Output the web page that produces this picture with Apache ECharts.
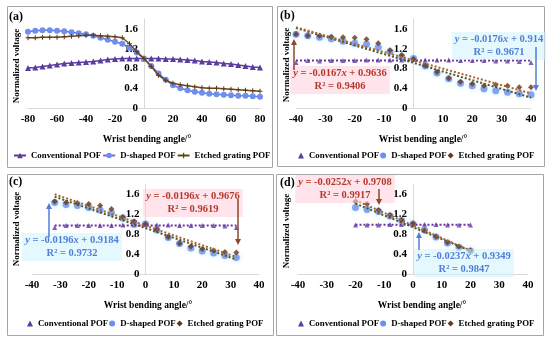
<!DOCTYPE html>
<html><head><meta charset="utf-8">
<script src="https://cdn.jsdelivr.net/npm/echarts@6/dist/echarts.min.js"></script>
<style>html,body{margin:0;padding:0;background:#fff}#c{width:550px;height:340px}</style>
</head><body><div id="c"></div>
<script>
const seriesNames = ['Conventional POF', 'D-shaped POF', 'Etched grating POF'];
const panelLabels = ['(a)', '(b)', '(c)', '(d)'];
const xAxisName = 'Wrist bending angle/°';
const yAxisName = 'Normalized voltage';

// Panel (a)
const xA = [-80,-75,-70,-65,-60,-55,-50,-45,-40,-35,-30,-25,-20,-15,-10,-5,0,5,10,15,20,25,30,35,40,45,50,55,60,65,70,75,80];
const convA = [0.81,0.82,0.84,0.86,0.88,0.90,0.91,0.92,0.93,0.94,0.96,0.98,0.99,1.00,1.00,1.00,1.00,1.00,1.00,0.99,0.99,0.98,0.97,0.96,0.94,0.93,0.92,0.90,0.89,0.87,0.85,0.83,0.82];
const dA = [1.54,1.56,1.57,1.57,1.56,1.55,1.53,1.51,1.49,1.46,1.42,1.38,1.34,1.30,1.22,1.12,1.00,0.85,0.70,0.57,0.46,0.40,0.36,0.33,0.31,0.29,0.28,0.27,0.26,0.25,0.25,0.24,0.23];
const etchA = [1.42,1.42,1.43,1.43,1.43,1.44,1.45,1.46,1.47,1.47,1.46,1.45,1.44,1.42,1.30,1.14,1.00,0.84,0.66,0.56,0.50,0.47,0.45,0.43,0.41,0.40,0.40,0.39,0.38,0.37,0.36,0.35,0.34];

// Panel (b)
const xB = [-40,-36,-32,-28,-24,-20,-16,-12,-8,-4,0,4,8,12,16,20,24,28,32,36,40];
const convB = [0.92,0.96,0.95,0.96,0.96,0.96,0.97,0.97,0.97,0.97,0.98,0.97,0.97,0.97,0.96,0.96,0.96,0.95,0.95,0.94,0.92];
const dB = [1.49,1.46,1.43,1.40,1.35,1.31,1.29,1.23,1.14,1.03,1.00,0.85,0.71,0.59,0.50,0.45,0.39,0.35,0.32,0.29,0.27];
const etchB = [1.49,1.46,1.46,1.44,1.43,1.42,1.39,1.31,1.17,1.07,0.99,0.86,0.73,0.60,0.53,0.49,0.45,0.47,0.45,0.42,0.42];
const trendConvB = [0, 0.96];
const trendDB = [-0.0176, 0.914];
const trendEB = [-0.0167, 0.9636];

// Panel (c)
const xC = [-32,-28,-24,-20,-16,-12,-8,-4,0,4,8,12,16,20,24,28,32];
const convC = [0.93,0.97,0.97,0.97,0.97,0.97,0.98,0.98,0.99,0.98,0.98,0.97,0.97,0.97,0.97,0.96,0.93];
const dC = [1.43,1.39,1.37,1.33,1.28,1.22,1.12,1.03,1.00,0.88,0.73,0.61,0.52,0.46,0.42,0.37,0.33];
const etchC = [1.45,1.43,1.42,1.40,1.37,1.30,1.14,1.05,1.00,0.89,0.74,0.61,0.55,0.50,0.47,0.44,0.43];
const trendConvC = [0, 0.97];
const trendDC = [-0.0196, 0.9184];
const trendEC = [-0.0196, 0.9676];

// Panel (d)
const xD = [-20,-16,-12,-8,-4,0,4,8,12,16,20];
const convD = [0.98,0.98,0.98,0.99,0.99,1.00,0.99,0.99,0.98,0.98,0.98];
const dD = [1.33,1.29,1.25,1.16,1.07,1.00,0.88,0.74,0.62,0.53,0.46];
const etchD = [1.45,1.40,1.28,1.18,1.08,1.01,0.87,0.75,0.63,0.55,0.47];
const trendConvD = [0, 0.985];
const trendDD = [-0.0237, 0.9349];
const trendED = [-0.0252, 0.9708];

// Trend-line equation labels
const eqB = {red: ['-0.0167', '0.9636', '0.9406'], blue: ['-0.0176', '0.914', '0.9671']};
const eqC = {red: ['-0.0196', '0.9676', '0.9619'], blue: ['-0.0196', '0.9184', '0.9732']};
const eqD = {red: ['-0.0252', '0.9708', '0.9917'], blue: ['-0.0237', '0.9349', '0.9847']};

// ---------- styling ----------
const FONT = 'Liberation Serif';
const CONV = '#5a3d9e';
const D_LINE = '#7868d6';
const D_MARK = '#6d8ff0';
const E_LINE = '#5d5422';
const E_MARK = '#6b3510';
const T_CONV = '#7030a0';
const T_D = '#4a5a2a';
const T_E = '#b0602a';
const RED = '#b5382e';
const BLUE = '#4f7fd6';
const PLUS = 'path://M4,0H6V4H10V6H6V10H4V6H0V4H4Z';

function pts(xs, ys) { return xs.map((x, i) => [x, ys[i]]); }
function trend(xs, coef) {
  const a = xs[0], b = xs[xs.length - 1];
  return [[a, coef[0] * a + coef[1]], [b, coef[0] * b + coef[1]]];
}

const grids = [
  {left: 28, top: 19, width: 232, height: 89},
  {left: 296, top: 19, width: 235, height: 89},
  {left: 32, top: 184, width: 227, height: 90},
  {left: 298, top: 184, width: 230, height: 90}
];
const xRanges = [[-80, 80, 20], [-40, 40, 10], [-40, 40, 10], [-40, 40, 10]];
const tickLabel = {fontFamily: FONT, fontWeight: 'bold', fontSize: 11, color: '#000'};
const xAxes = grids.map((g, i) => ({
  type: 'value', gridIndex: i,
  min: xRanges[i][0], max: xRanges[i][1], interval: xRanges[i][2],
  axisLine: {show: true, lineStyle: {color: '#d9d9d9', width: 1}},
  axisTick: {show: false}, splitLine: {show: false},
  axisLabel: Object.assign({margin: 6}, tickLabel)
}));
// y axis placed where x = 0 (shifted inward from the grid's left edge)
const yAxes = grids.map((g, i) => ({
  type: 'value', gridIndex: i, min: 0, max: 1.8, interval: 0.4,
  offset: -g.width * (0 - xRanges[i][0]) / (xRanges[i][1] - xRanges[i][0]),
  axisLine: {show: true, onZero: false, lineStyle: {color: '#d9d9d9', width: 1}},
  axisTick: {show: false}, splitLine: {show: false},
  axisLabel: Object.assign({margin: 6, showMaxLabel: false}, tickLabel)
}));

const series = [];
// panel (a): lines with markers
series.push({name: seriesNames[0], type: 'line', xAxisIndex: 0, yAxisIndex: 0, data: pts(xA, convA),
  symbol: 'triangle', symbolSize: 6, lineStyle: {color: CONV, width: 1.5}, itemStyle: {color: CONV}, z: 3});
series.push({name: seriesNames[1], type: 'line', xAxisIndex: 0, yAxisIndex: 0, data: pts(xA, dA),
  symbol: 'circle', symbolSize: 6, lineStyle: {color: D_LINE, width: 1.5}, itemStyle: {color: D_MARK}, z: 4});
series.push({name: seriesNames[2], type: 'line', xAxisIndex: 0, yAxisIndex: 0, data: pts(xA, etchA),
  symbol: PLUS, symbolSize: 5, lineStyle: {color: E_LINE, width: 1.5}, itemStyle: {color: E_MARK}, z: 5});

const panels = [
  {x: xB, c: convB, d: dB, e: etchB, tc: trendConvB, td: trendDB, te: trendEB},
  {x: xC, c: convC, d: dC, e: etchC, tc: trendConvC, td: trendDC, te: trendEC},
  {x: xD, c: convD, d: dD, e: etchD, tc: trendConvD, td: trendDD, te: trendED}
];
panels.forEach((p, k) => {
  const ax = k + 1;
  series.push({name: seriesNames[0], type: 'scatter', xAxisIndex: ax, yAxisIndex: ax, data: pts(p.x, p.c),
    symbol: 'triangle', symbolSize: 5, itemStyle: {color: CONV}, z: 3});
  series.push({name: seriesNames[1], type: 'scatter', xAxisIndex: ax, yAxisIndex: ax, data: pts(p.x, p.d),
    symbol: 'circle', symbolSize: 7, itemStyle: {color: D_MARK, shadowBlur: 4, shadowColor: 'rgba(120,220,255,0.6)'}, z: 3});
  series.push({name: seriesNames[2], type: 'scatter', xAxisIndex: ax, yAxisIndex: ax, data: pts(p.x, p.e),
    symbol: 'diamond', symbolSize: 6, itemStyle: {color: E_MARK}, z: 4});
  [[p.tc, T_CONV], [p.td, T_D], [p.te, T_E]].forEach((t, j) => {
    series.push({name: 'trend' + ax + '_' + j, type: 'line', xAxisIndex: ax, yAxisIndex: ax,
      data: trend(p.x, t[0]), symbol: 'none', silent: true,
      lineStyle: {color: t[1], width: 2, type: [2, 2]}, z: 6});
  });
});

const legText = {fontFamily: FONT, fontWeight: 'bold', fontSize: 8.8, color: '#000'};
const legends = [
  {left: 13, top: 151, padding: 0, itemWidth: 12, itemHeight: 7, itemGap: 1, textStyle: legText, data: seriesNames, selectedMode: false}
];
[[298, 151], [27, 319], [298, 319]].forEach(pos => {
  legends.push({left: pos[0], top: pos[1], padding: 0, itemWidth: 6, itemHeight: 6, itemGap: 1, textStyle: legText, selectedMode: false,
    data: [
      {name: seriesNames[0], icon: 'triangle', itemStyle: {color: CONV}},
      {name: seriesNames[1], icon: 'circle', itemStyle: {color: D_MARK}},
      {name: seriesNames[2], icon: 'diamond', itemStyle: {color: E_MARK}}
    ]});
});

// ---------- graphics: boxes, labels, names, annotations ----------
const G = [];
[[7, 6, 265, 161], [277, 6, 267, 160], [7, 174, 266, 161], [276, 174, 267, 161]].forEach(b => {
  G.push({type: 'rect', shape: {x: b[0] + 0.5, y: b[1] + 0.5, width: b[2], height: b[3]},
    style: {fill: 'none', stroke: '#a6a6a6', lineWidth: 1}, silent: true});
});
[[9, 17], [280, 16], [9, 182], [280, 183]].forEach((p, i) => {
  G.push({type: 'text', x: p[0], y: p[1], style: {text: panelLabels[i], fontFamily: FONT, fontWeight: 'bold',
    fontSize: 12, fill: '#000', align: 'left', verticalAlign: 'middle'}});
});
[[147, 140], [423, 140], [148, 306], [422, 306]].forEach(p => {
  G.push({type: 'text', x: p[0], y: p[1], style: {text: xAxisName, fontFamily: FONT, fontWeight: 'bold',
    fontSize: 9.5, fill: '#000', align: 'center', verticalAlign: 'middle'}});
});
[[17, 66], [287, 65], [17, 229], [287, 231]].forEach(p => {
  G.push({type: 'text', x: p[0], y: p[1], rotation: Math.PI / 2, style: {text: yAxisName, fontFamily: FONT,
    fontWeight: 'bold', fontSize: 9, fill: '#000', align: 'center', verticalAlign: 'middle'}});
});
function eqText(cx, cy, eq, color, bg) {
  const base = {fontFamily: FONT, fontWeight: 'bold', fontSize: 10.5, fill: color, lineHeight: 13};
  G.push({type: 'text', x: cx, y: cy, z: 10, style: {
    text: '{i|y}{n| = ' + eq[0] + '}{i|x}{n| + ' + eq[1] + '}\n{n|R² = ' + eq[2] + '}',
    align: 'center', verticalAlign: 'middle', backgroundColor: bg, padding: [1, 3],
    rich: {i: Object.assign({fontStyle: 'italic'}, base), n: base}
  }});
}
function arrow(x, yTail, yTip, color) {
  const dir = yTip > yTail ? 1 : -1;
  const base = yTip - dir * 6;
  G.push({type: 'line', z: 10, shape: {x1: x, y1: yTail, x2: x, y2: base}, style: {stroke: color, lineWidth: 1.5}});
  G.push({type: 'polygon', z: 10, shape: {points: [[x - 3, base], [x + 3, base], [x, yTip]]}, style: {fill: color}});
}
const PINK = 'rgba(255,205,220,0.55)';
const CYAN = 'rgba(205,243,252,0.55)';
eqText(340, 80, eqB.red, RED, PINK);
eqText(499, 46, eqB.blue, BLUE, CYAN);
eqText(193, 203, eqC.red, RED, PINK);
eqText(72, 247, eqC.blue, BLUE, CYAN);
eqText(345, 189, eqD.red, RED, PINK);
eqText(464, 263, eqD.blue, BLUE, CYAN);
arrow(294, 70, 39, '#8b4a2b');
arrow(536, 47, 91, BLUE);
arrow(238, 199, 245, '#8b4a2b');
arrow(49, 237, 203, BLUE);
arrow(379, 189, 205, '#8b4a2b');
arrow(419, 250, 232, BLUE);

const chart = echarts.init(document.getElementById('c'), null, {renderer: 'canvas'});
chart.setOption({
  animation: false,
  backgroundColor: '#fff',
  grid: grids,
  xAxis: xAxes,
  yAxis: yAxes,
  legend: legends,
  series: series,
  graphic: {elements: G}
});
</script>
</body></html>
